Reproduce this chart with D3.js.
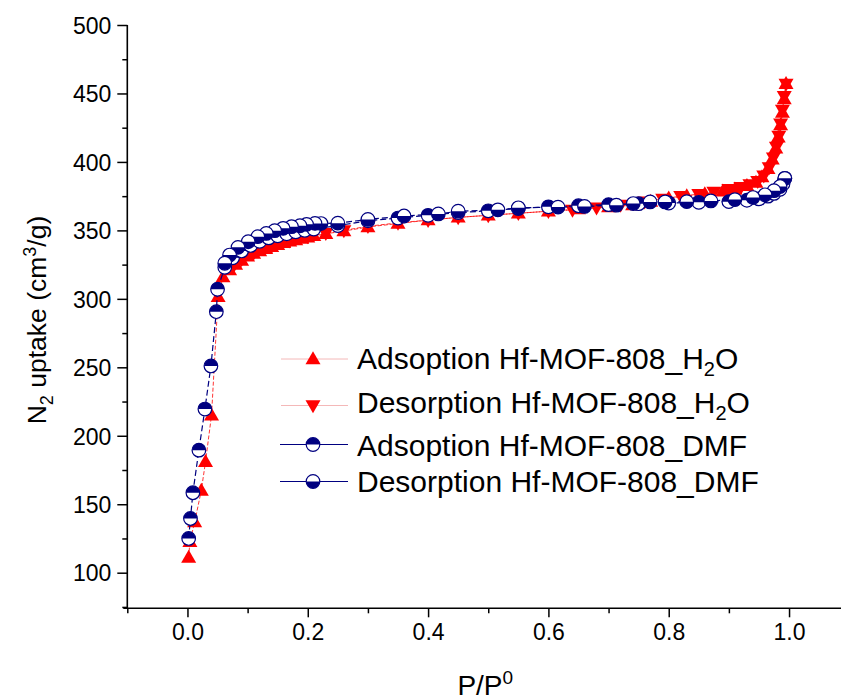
<!DOCTYPE html>
<html>
<head>
<meta charset="utf-8">
<script src="https://cdn.jsdelivr.net/npm/d3@7"></script>
<style>
  html, body { margin: 0; padding: 0; background: #ffffff; }
  svg { display: block; }
  text { font-family: "Liberation Sans", Arial, sans-serif; fill: #000; }
</style>
</head>
<body>
<div id="chart"></div>
<script>
// ---------------- DATA ----------------
const xTicksMajor = [0.0, 0.2, 0.4, 0.6, 0.8, 1.0];
const xTicksMinor = [-0.1, 0.1, 0.3, 0.5, 0.7, 0.9, 1.1];
const yTicksMajor = [100, 150, 200, 250, 300, 350, 400, 450, 500];
const yTicksMinor = [75, 125, 175, 225, 275, 325, 375, 425, 475];

const h2oAdsX = [0.002,0.004,0.012,0.023,0.030,0.040,0.051,0.059,0.07,0.08,0.09,0.10,0.11,0.12,0.13,0.14,0.15,0.16,0.17,0.18,0.19,0.20,0.21,0.23,0.26,0.30,0.35,0.40,0.45,0.50,0.55,0.60,0.65,0.70,0.74,0.77,0.80,0.83,0.86,0.89,0.91,0.93,0.945,0.955,0.965,0.972,0.978,0.982,0.986,0.989,0.992,0.995];
const h2oAdsY = [111,122.5,137,160,181,215,301.5,316,321,325,328,331,333,335,336.5,338,339.5,341,342,343,344,345,346,347.5,349.5,352.5,355,357.5,359.5,361,362.5,364,365.5,367,368.5,371,373.5,375,376.5,378.5,380,382.5,385,389,395,402,410,418,427,436,446,457];

const h2oDesX = [0.995,0.992,0.989,0.986,0.983,0.979,0.974,0.967,0.958,0.948,0.935,0.92,0.90,0.875,0.85,0.82,0.79,0.76,0.72,0.68,0.64,0.60,0.55,0.50,0.45,0.40,0.35,0.30,0.26,0.23,0.20,0.17,0.14,0.11,0.09,0.075];
const h2oDesY = [457,448,438,428,419,411,403,396,390,386,383.5,381.5,380,378,376.5,375,373,371,368.5,366.5,365,364,362.5,361,359.5,357.5,355.5,353,350,348,345.5,342.5,338.5,333.5,329,323];

const dmfAdsX = [0.002,0.005,0.009,0.019,0.029,0.039,0.048,0.050,0.062,0.075,0.09,0.105,0.12,0.135,0.15,0.165,0.18,0.195,0.21,0.25,0.30,0.35,0.40,0.45,0.50,0.55,0.60,0.65,0.70,0.75,0.80,0.85,0.90,0.93,0.95,0.965,0.975,0.985,0.99,0.993];
const dmfAdsY = [125,139.6,158.4,189.5,219.5,251,290.6,307,323,330,335,339,342,344.5,346,347.5,349,350,351,353.5,357,359,361,363,364.3,366,367.2,368,368.8,369.5,370,370.5,371,372,373,375,377,380,384,388];

const dmfDesX = [0.993,0.985,0.975,0.96,0.94,0.91,0.87,0.83,0.794,0.769,0.741,0.713,0.66,0.616,0.55,0.516,0.45,0.417,0.36,0.30,0.25,0.222,0.212,0.198,0.187,0.173,0.159,0.145,0.131,0.117,0.101,0.084,0.070,0.062];
const dmfDesY = [388,382,379,376,374,372.5,371.5,371,370.8,370.8,369.6,368.4,367.5,367,366.5,365,364,362,360.5,358,355.3,355,355.1,354.4,353.4,352.7,351.5,349.8,347.8,345.4,341.7,337.6,332,326];

const legendLabels = [
  ["Adsoption Hf-MOF-808_H", "2", "O"],
  ["Desorption Hf-MOF-808_H", "2", "O"],
  ["Adsoption Hf-MOF-808_DMF", "", ""],
  ["Desorption Hf-MOF-808_DMF", "", ""]
];

// ---------------- LAYOUT ----------------
const W = 841, H = 700;
const RED = "#ff0000", NAVY = "#000080";
const x = d3.scaleLinear().domain([-0.1, 1.1]).range([127.3, 849.2]);
const y = d3.scaleLinear().domain([74, 500]).range([608.3, 25]);

const svg = d3.select("#chart").append("svg")
  .attr("width", W).attr("height", H);

const zip = (xs, ys) => xs.map((v, i) => ({x: v, y: ys[i]}));
const h2oAds = zip(h2oAdsX, h2oAdsY);
const h2oDes = zip(h2oDesX, h2oDesY);
const dmfAds = zip(dmfAdsX, dmfAdsY);
const dmfDes = zip(dmfDesX, dmfDesY);

const line = d3.line().x(d => x(d.x)).y(d => y(d.y));

// marker helpers
const TW = 7.5, TH = 13;
function triUp(g, cx, cy) {
  g.append("path")
    .attr("d", `M${cx},${cy - TH*0.6}L${cx + TW},${cy + TH*0.4}L${cx - TW},${cy + TH*0.4}Z`)
    .attr("fill", RED);
}
function triDown(g, cx, cy) {
  g.append("path")
    .attr("d", `M${cx},${cy + TH*0.6}L${cx + TW},${cy - TH*0.4}L${cx - TW},${cy - TH*0.4}Z`)
    .attr("fill", RED);
}
const R = 6.8;
const arcTop = d3.arc().innerRadius(0).outerRadius(R).startAngle(-Math.PI/2).endAngle(Math.PI/2);
const arcBot = d3.arc().innerRadius(0).outerRadius(R).startAngle(Math.PI/2).endAngle(3*Math.PI/2);
function halfCircle(g, cx, cy, topFilled) {
  const m = g.append("g").attr("transform", `translate(${cx},${cy})`);
  m.append("circle").attr("r", R).attr("fill", "#fff");
  m.append("path").attr("d", topFilled ? arcTop() : arcBot()).attr("fill", NAVY);
  m.append("circle").attr("r", R).attr("fill", "none").attr("stroke", NAVY).attr("stroke-width", 1.2);
}

// ---------------- SERIES ----------------
const plot = svg.append("g");
plot.append("path").datum(h2oAds).attr("d", line)
  .attr("fill", "none").attr("stroke", RED).attr("stroke-width", 0.8).attr("stroke-dasharray", "4,2");
plot.append("path").datum(h2oDes).attr("d", line)
  .attr("fill", "none").attr("stroke", RED).attr("stroke-width", 0.8).attr("stroke-dasharray", "4,2");
const gH2oAds = plot.append("g");
h2oAds.forEach(d => triUp(gH2oAds, x(d.x), y(d.y)));
const gH2oDes = plot.append("g");
h2oDes.forEach(d => triDown(gH2oDes, x(d.x), y(d.y)));

plot.append("path").datum(dmfAds).attr("d", line)
  .attr("fill", "none").attr("stroke", NAVY).attr("stroke-width", 1.2).attr("stroke-dasharray", "6,3");
plot.append("path").datum(dmfDes).attr("d", line)
  .attr("fill", "none").attr("stroke", NAVY).attr("stroke-width", 1.2).attr("stroke-dasharray", "6,3");
const gDmfAds = plot.append("g");
dmfAds.forEach(d => halfCircle(gDmfAds, x(d.x), y(d.y), true));
const gDmfDes = plot.append("g");
dmfDes.forEach(d => halfCircle(gDmfDes, x(d.x), y(d.y), false));

// ---------------- AXES ----------------
const axG = svg.append("g");
const y0 = y.range()[0];
const x0 = x.range()[0];
// left axis
const yAxis = d3.axisLeft(y).tickValues(yTicksMajor).tickSize(10).tickPadding(6).tickFormat(d3.format("d"));
const gy = axG.append("g").attr("transform", `translate(${x0},0)`).call(yAxis);
gy.select(".domain").remove();
gy.selectAll(".tick line").attr("stroke", "#000").attr("stroke-width", 1.5);
gy.selectAll(".tick text").style("font-family", '"Liberation Sans", Arial, sans-serif').style("font-size", "23px").attr("dy", "0.36em");
const yMinor = d3.axisLeft(y).tickValues(yTicksMinor).tickSize(5).tickFormat("");
const gym = axG.append("g").attr("transform", `translate(${x0},0)`).call(yMinor);
gym.select(".domain").remove();
gym.selectAll(".tick line").attr("stroke", "#000").attr("stroke-width", 1.5);
axG.append("line").attr("x1", x0).attr("x2", x0).attr("y1", y.range()[1]).attr("y2", y0)
  .attr("stroke", "#000").attr("stroke-width", 1.6);

// bottom axis
const xAxis = d3.axisBottom(x).tickValues(xTicksMajor).tickSize(9).tickPadding(6).tickFormat(d3.format(".1f"));
const gx = axG.append("g").attr("transform", `translate(0,${y0})`).call(xAxis);
gx.select(".domain").remove();
gx.selectAll(".tick line").attr("stroke", "#000").attr("stroke-width", 1.5);
gx.selectAll(".tick text").style("font-family", '"Liberation Sans Narrow", "Arial Narrow", "Liberation Sans", sans-serif').style("font-size", "23px");
const xMinor = d3.axisBottom(x).tickValues(xTicksMinor).tickSize(5).tickFormat("");
const gxm = axG.append("g").attr("transform", `translate(0,${y0})`).call(xMinor);
gxm.select(".domain").remove();
gxm.selectAll(".tick line").attr("stroke", "#000").attr("stroke-width", 1.5);
axG.append("line").attr("x1", x0 - 4).attr("x2", x.range()[1]).attr("y1", y0).attr("y2", y0)
  .attr("stroke", "#000").attr("stroke-width", 1.6);

// axis titles
const xt = svg.append("text").attr("x", x(0.5) - 3).attr("y", 695).attr("text-anchor", "middle")
  .style("font-size", "28px");
xt.append("tspan").text("P/P");
xt.append("tspan").text("0").attr("dy", -11).style("font-size", "19px");

const yt = svg.append("text").attr("transform", `translate(46,320) rotate(-90)`).attr("text-anchor", "middle")
  .style("font-size", "26.5px");
yt.append("tspan").text("N");
yt.append("tspan").text("2").attr("dy", 7).style("font-size", "18px");
yt.append("tspan").text(" uptake (cm").attr("dy", -7);
yt.append("tspan").text("3").attr("dy", -10).style("font-size", "18px");
yt.append("tspan").text("/g)").attr("dy", 10);

// ---------------- LEGEND ----------------
const leg = svg.append("g");
const legRows = [359, 405.5, 444.5, 481.5];
const legText = [369, 412.5, 455.5, 492];
// H2O rows: faint red line
[0, 1].forEach(i => {
  leg.append("line").attr("x1", 281).attr("x2", 348).attr("y1", legRows[i]).attr("y2", legRows[i])
    .attr("stroke", "#f4b8b8").attr("stroke-width", 1);
});
triUp(leg, 313, legRows[0]);
triDown(leg, 313, legRows[1]);
[2, 3].forEach(i => {
  leg.append("line").attr("x1", 280).attr("x2", 348).attr("y1", legRows[i]).attr("y2", legRows[i])
    .attr("stroke", NAVY).attr("stroke-width", 1.2);
});
halfCircle(leg, 313, legRows[2], true);
halfCircle(leg, 313, legRows[3], false);

legendLabels.forEach((parts, i) => {
  const t = leg.append("text").attr("x", 357).attr("y", legText[i]).style("font-size", "30px");
  t.append("tspan").text(parts[0]);
  if (parts[1]) {
    t.append("tspan").text(parts[1]).attr("dy", 7).style("font-size", "20px");
    t.append("tspan").text(parts[2]).attr("dy", -7);
  }
});
</script>
</body>
</html>
